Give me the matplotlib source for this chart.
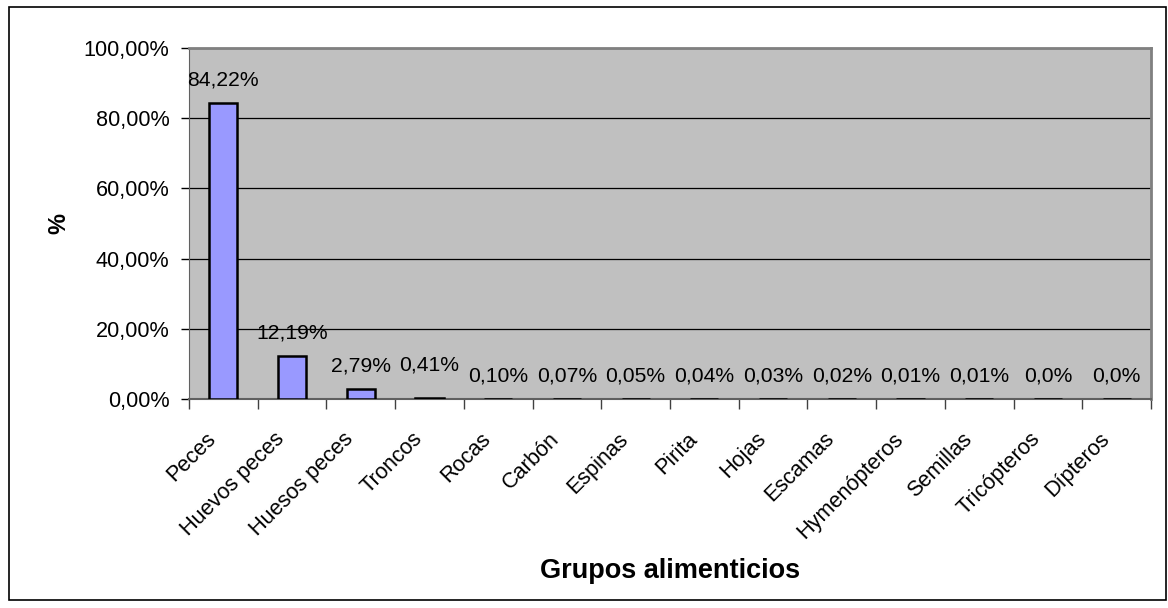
import matplotlib.pyplot as plt
import matplotlib.transforms as mtransforms
import numpy as np
from matplotlib.patches import Rectangle

plt.rcParams['font.family'] = ['Liberation Sans', 'DejaVu Sans']

grupos = ['Peces', 'Huevos peces', 'Huesos peces', 'Troncos', 'Rocas', 'Carbón',
          'Espinas', 'Pirita', 'Hojas', 'Escamas', 'Hymenópteros', 'Semillas',
          'Tricópteros', 'Dípteros']
porcentaje = [84.22, 12.19, 2.79, 0.41, 0.10, 0.07, 0.05, 0.04, 0.03, 0.02,
              0.01, 0.01, 0.0, 0.0]
decimales = [2, 2, 2, 2, 2, 2, 2, 2, 2, 2, 2, 2, 1, 1]

fig = plt.figure(figsize=(11.68, 6.08), dpi=100)
ax = fig.add_axes([189/1168, 1 - 399/608, 962/1168, 351/608])

# marco exterior del gráfico
fig.patches.append(Rectangle((9/1168, 1 - 600/608), 1157/1168, 593/608,
                             transform=fig.transFigure, fill=False,
                             edgecolor='black', linewidth=1.2))

x = np.arange(len(grupos))
ax.set_facecolor('#C0C0C0')
ax.bar(x, porcentaje, width=0.41, color='#9999FF', edgecolor='black',
       linewidth=1.8, zorder=3)

ax.set_xlim(-0.5, len(grupos) - 0.5)
ax.set_ylim(0, 100)
ax.set_yticks(np.arange(0, 101, 20))
ax.set_yticklabels([f'{v:.2f}%'.replace('.', ',') for v in range(0, 101, 20)],
                   fontsize=15.6)
ax.yaxis.grid(True, color='black', linewidth=0.9, zorder=1)

# marcas en los límites de cada categoría
ax.set_xticks(np.arange(-0.5, len(grupos)), minor=False)
ax.set_xticklabels([])
ax.set_xticks(x, minor=True)
ax.set_xticklabels(grupos, minor=True, rotation=45, ha='right', va='top',
                   rotation_mode='anchor', fontsize=15.6)
ax.tick_params(axis='x', which='minor', length=0, pad=14)
ax.tick_params(axis='x', which='major', length=7, width=1, color='#404040')
ax.tick_params(axis='y', length=6, width=1, pad=8)

# desplazar las etiquetas giradas hacia la izquierda y abajo
shift = mtransforms.ScaledTranslation(-0.18, -0.10, fig.dpi_scale_trans)
for lbl in ax.get_xticklabels(minor=True):
    lbl.set_transform(lbl.get_transform() + shift)

for s in ['top', 'right']:
    ax.spines[s].set_color('#808080')
    ax.spines[s].set_linewidth(2)
ax.spines['left'].set_color('#606060')
ax.spines['bottom'].set_color('#606060')
ax.spines['bottom'].set_linewidth(1.5)

# etiquetas de valor sobre cada barra
for i, (v, d) in enumerate(zip(porcentaje, decimales)):
    txt = f'{v:.{d}f}%'.replace('.', ',')
    extra = 7 if grupos[i] == 'Troncos' else 0
    ax.annotate(txt, (i, v), xytext=(0, 16.5 + extra), textcoords='offset points',
                ha='center', va='center', fontsize=15.2, zorder=4)

ax.set_ylabel('%', fontsize=17, fontweight='bold', labelpad=10)
ax.set_xlabel('Grupos alimenticios', fontsize=19.5, fontweight='bold', labelpad=11)

fig.savefig('out.png', dpi=100)
